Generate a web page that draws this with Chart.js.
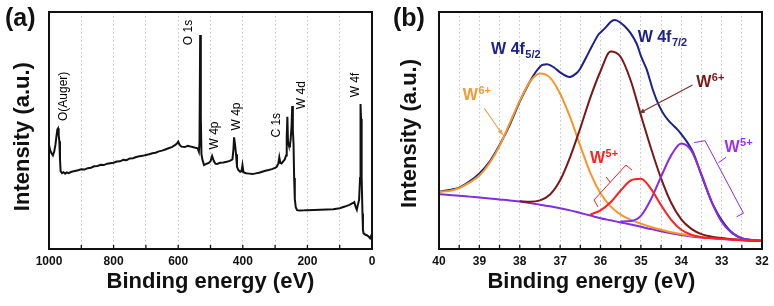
<!DOCTYPE html>
<html>
<head>
<meta charset="utf-8">
<script src="https://cdn.jsdelivr.net/npm/chart.js@4.4.1/dist/chart.umd.min.js"></script>
<style>
  body { margin: 0; background: #fff; }
  #wrap { position: relative; width: 774px; height: 306px; }
  .panel { position: absolute; top: 0; width: 387px; height: 306px; }
</style>
</head>
<body>
<div id="wrap">
  <div class="panel" style="left:0"><canvas id="surveyChart" width="387" height="306"></canvas></div>
  <div class="panel" style="left:387px"><canvas id="w4fChart" width="387" height="306"></canvas></div>
</div>
<script>
// (a) survey spectrum, binding energy (eV) vs intensity (arb.)
let surveyEnergy = [1000, 996, 992, 988, 984, 980, 977, 974, 972, 970, 968, 966, 964, 960, 955, 950, 945, 940,
  930, 920, 910, 900, 890, 880, 870, 860, 850, 840, 830, 820, 810, 800, 790, 780, 770, 760, 750, 740, 730,
  720, 710, 700, 690, 680, 670, 660, 650, 640, 630, 620, 610, 604, 600, 596, 590, 580, 570, 560, 550, 540,
  536, 534, 532, 530, 528, 525, 520, 512, 505, 500, 495, 490, 485, 480, 470, 460, 450, 440, 432, 429, 427,
  424, 421, 418, 414, 408, 404, 401, 398, 390, 380, 370, 360, 350, 340, 330, 320, 310, 300, 295, 290, 287,
  284, 280, 275, 270, 266, 264, 262, 260, 258, 256, 254, 252, 249, 247, 245, 243, 241, 239, 236, 232, 225,
  210, 200, 180, 160, 140, 120, 100, 84, 70, 60, 55, 50, 47, 44, 40, 37, 35.5, 34, 33, 31, 29.5, 28, 26,
  20, 15, 10, 6, 3, 0];
let surveyCounts = [43.9, 41.5, 40.4, 39.5, 41.0, 44.0, 47.5, 50.5, 50.9, 48.0, 45.5, 38.0, 32.8, 32.0, 32.4, 31.8, 32.3, 32.0,
  32.6, 32.9, 33.2, 33.6, 33.5, 34.1, 34.3, 34.9, 35.0, 35.5, 35.4, 36.0, 36.2, 36.4, 36.9, 37.0, 37.6, 37.5, 38.2, 38.3, 38.8,
  39.1, 39.3, 39.7, 40.0, 40.4, 40.6, 41.2, 41.5, 42.0, 42.5, 43.0, 43.8, 44.5, 45.3, 44.0, 43.2, 43.0, 43.5, 43.2, 42.8, 42.5,
  41.0, 45.0, 90.3, 55.8, 40.0, 37.6, 35.4, 36.0, 36.3, 37.0, 39.2, 37.2, 36.0, 35.9, 36.4, 36.5, 36.8, 37.2, 37.8, 42.0, 47.1,
  44.0, 40.0, 34.7, 33.4, 32.6, 32.8, 35.4, 32.4, 32.0, 31.8, 31.6, 31.9, 32.2, 32.6, 33.0, 33.3, 33.7, 34.2, 34.7, 36.0, 38.7,
  36.4, 36.1, 37.0, 37.8, 39.5, 47.0, 55.8, 45.0, 44.0, 43.2, 44.0, 46.0, 52.0, 60.3, 50.0, 44.6, 30.0, 21.0, 17.6, 16.4, 16.2,
  16.3, 16.4, 16.5, 16.6, 16.7, 16.8, 17.2, 17.9, 18.6, 19.3, 19.8, 17.5, 16.5, 18.5, 20.7, 30.0, 61.2, 55.0, 48.8, 30.0, 15.0, 8.0, 6.6,
  6.0, 5.7, 5.2, 4.5, 5.5, 5.0];
let surveyPeakNames = ['O(Auger)', 'O 1s', 'W 4p', 'W 4p', 'C 1s', 'W 4d', 'W 4f'];
let surveyPeakEnergy = [956, 567, 486, 419, 295, 217, 50];
let surveyPeakLevel = [54, 86, 42, 50, 47, 59, 64];

// (b) W 4f region and its fitted components
let w4fEnergy = [40, 39.75, 39.5, 39.25, 39, 38.75, 38.5, 38.25, 38, 37.75, 37.5, 37.25, 37, 36.75, 36.5, 36.25,
  36, 35.75, 35.5, 35.25, 35, 34.75, 34.5, 34.25, 34, 33.75, 33.5, 33.25, 33, 32.75, 32.5, 32.25, 32];
let measuredEnergy = [40, 39.75, 39.5, 39.25, 39, 38.75, 38.5, 38.25, 38, 37.75, 37.6, 37.45, 37.3, 37.15, 37, 36.85,
  36.75, 36.6, 36.5, 36.35, 36.2, 36.05, 35.9, 35.75, 35.65, 35.55, 35.4, 35.25, 35.1, 35, 34.85, 34.7, 34.55, 34.4,
  34.25, 34.1, 34, 33.85, 33.7, 33.55, 33.4, 33.25, 33.1, 33, 32.85, 32.7, 32.5, 32.25, 32];
let measuredCounts = [24.2, 24.9, 25.9, 28.4, 31.9, 36.8, 43.9, 52.3, 62.2, 70.6, 74.8, 77.6, 77.9, 76.6, 74.5, 73.0,
  72.6, 74.1, 76.2, 81.0, 86.0, 90.5, 93.0, 95.8, 96.6, 96.0, 94.0, 91.0, 86.5, 81.5, 75.5, 67.0, 60.5, 56.0,
  53.0, 50.5, 48.5, 45.0, 40.5, 33.5, 26.5, 20.0, 15.0, 12.2, 8.8, 6.4, 4.5, 3.8, 3.4];
let background = [23.1, 22.8, 22.5, 22.1, 21.7, 21.3, 20.9, 20.5, 20.0, 19.4, 18.7, 18.0, 17.2, 16.3, 15.2, 14.1,
  13.0, 12.1, 11.2, 10.3, 9.4, 8.4, 7.5, 6.6, 5.9, 5.3, 4.8, 4.5, 4.2, 3.9, 3.7, 3.5, 3.4];
let w6Fit375 = [24.2, 24.5, 25.7, 28.0, 31.0, 36.2, 43.5, 53.0, 62.5, 70.5, 74.0, 72.3, 65.5, 55.5, 43.5, 32.0,
  23.5, 18.0, 14.5, 12.3, 10.7, 9.3, 8.1, 7.1, 6.3, 5.6, 5.1, 4.7, 4.4, 4.1, 3.8, 3.6, 3.5];
let w6Fit357 = [null, null, null, null, null, null, null, null, 20.2, 19.9, 20.5, 23.0, 29.0, 38.9, 51.0, 64.0,
  75.0, 83.3, 81.0, 71.0, 56.5, 42.5, 29.8, 19.5, 12.5, 8.5, 6.3, 5.2, 4.6, 4.1, 3.8, 3.6, 3.5];
let w5Fit350 = [null, null, null, null, null, null, null, null, null, null, null, null, null, null, null, 14.6,
  16.3, 19.7, 24.7, 28.9, 29.6, 25.4, 18.5, 12.3, 8.1, 6.0, 5.0, 4.6, 4.3, 4.0, 3.8, 3.6, 3.5];
let w5Fit340 = [null, null, null, null, null, null, null, null, null, null, null, null, null, null, null, null,
  null, null, 11.6, 11.8, 14.0, 21.0, 30.5, 39.5, 44.5, 41.5, 31.5, 20.0, 11.5, 6.8, 4.6, 3.8, 3.5];

const FONT = '"Liberation Sans", Arial, sans-serif';
const NAVY = '#1c2286', ORANGE = '#f5962a', BROWN = '#7a1818', RED = '#ff2020', VIOLET = '#8a2be2';
Chart.defaults.font.family = FONT;

function pts(xs, ys) {
  return xs.map((x, i) => ({ x: x, y: ys[i] }));
}

// box round the plot, inward ticks and the panel letter
const framePlugin = {
  id: 'frame',
  afterDraw(chart, args, opts) {
    const ctx = chart.ctx, a = chart.chartArea, x = chart.scales.x;
    ctx.save();
    ctx.strokeStyle = '#111';
    ctx.lineWidth = 1.3;
    ctx.beginPath();
    x.ticks.forEach(t => {
      const p = x.getPixelForValue(t.value);
      ctx.moveTo(p, a.bottom);
      ctx.lineTo(p, a.bottom - 4);
    });
    ctx.stroke();
    ctx.lineWidth = 2;
    ctx.strokeRect(a.left, a.top, a.width, a.height);
    ctx.fillStyle = '#111';
    ctx.font = 'bold 25px ' + FONT;
    ctx.fillText(opts.letter, opts.letterX, 26);
    ctx.restore();
  }
};

const surveyLabels = {
  id: 'surveyLabels',
  afterDatasetsDraw(chart) {
    const ctx = chart.ctx, x = chart.scales.x, y = chart.scales.y;
    ctx.save();
    ctx.font = '12px ' + FONT;
    ctx.fillStyle = '#000';
    ctx.textAlign = 'left';
    ctx.textBaseline = 'middle';
    surveyPeakNames.forEach((name, i) => {
      ctx.save();
      ctx.translate(x.getPixelForValue(surveyPeakEnergy[i]), y.getPixelForValue(surveyPeakLevel[i]));
      ctx.rotate(-Math.PI / 2);
      ctx.fillText(name, 0, 0);
      ctx.restore();
    });
    ctx.restore();
  }
};

function drawLabel(ctx, main, small, x, y, color, shift) {
  ctx.fillStyle = color;
  ctx.font = 'bold 16px ' + FONT;
  ctx.fillText(main, x, y);
  const w = ctx.measureText(main).width;
  ctx.font = 'bold 11px ' + FONT;
  ctx.fillText(small, x + w + 0.5, y + shift);
}

function drawArrow(ctx, x1, y1, x2, y2, color) {
  const ang = Math.atan2(y2 - y1, x2 - x1);
  ctx.strokeStyle = color;
  ctx.fillStyle = color;
  ctx.lineWidth = 1.2;
  ctx.beginPath();
  ctx.moveTo(x1, y1);
  ctx.lineTo(x2, y2);
  ctx.stroke();
  ctx.beginPath();
  ctx.moveTo(x2, y2);
  ctx.lineTo(x2 - 6 * Math.cos(ang - 0.4), y2 - 6 * Math.sin(ang - 0.4));
  ctx.lineTo(x2 - 6 * Math.cos(ang + 0.4), y2 - 6 * Math.sin(ang + 0.4));
  ctx.closePath();
  ctx.fill();
}

function drawPath(ctx, list, color) {
  ctx.strokeStyle = color;
  ctx.lineWidth = 1;
  ctx.beginPath();
  list.forEach((p, i) => i ? ctx.lineTo(p[0], p[1]) : ctx.moveTo(p[0], p[1]));
  ctx.stroke();
}

const fitNotes = {
  id: 'fitNotes',
  afterDatasetsDraw(chart) {
    const ctx = chart.ctx, x = chart.scales.x, y = chart.scales.y;
    const P = (e, v) => [x.getPixelForValue(e), y.getPixelForValue(v)];
    ctx.save();
    ctx.textBaseline = 'alphabetic';
    let p = P(38.71, 82.2); drawLabel(ctx, 'W 4f', '5/2', p[0], p[1], NAVY, 4);
    p = P(35.08, 87.2); drawLabel(ctx, 'W 4f', '7/2', p[0], p[1], NAVY, 4);
    p = P(39.41, 62.9); drawLabel(ctx, 'W', '6+', p[0], p[1], '#f39a33', -6);
    p = P(33.63, 68.5); drawLabel(ctx, 'W', '6+', p[0], p[1], BROWN, -6);
    p = P(36.26, 36.2); drawLabel(ctx, 'W', '5+', p[0], p[1], RED, -6);
    p = P(32.93, 41.1); drawLabel(ctx, 'W', '5+', p[0], p[1], '#9933ee', -6);

    let a = P(38.88, 59.4), b = P(38.42, 48.1);
    drawArrow(ctx, a[0], a[1], b[0], b[1], '#f0a050');
    a = P(33.72, 69.2); b = P(35.04, 57.3);
    drawArrow(ctx, a[0], a[1], b[0], b[1], '#7a3030');

    // brackets
    drawPath(ctx, [P(36.06, 17.7), P(36.16, 20.7), P(35.37, 35.4), P(35.22, 33.3)], RED);
    drawPath(ctx, [P(35.76, 28.1), P(35.86, 30.4)], RED);
    drawPath(ctx, [P(33.68, 44.9), P(33.41, 45.7), P(32.46, 15.1), P(32.63, 13.6)], VIOLET);
    drawPath(ctx, [P(33.08, 36.4), P(32.89, 38.7)], VIOLET);
    ctx.restore();
  }
};

function axisOptions(min, max, step, every, plotLeft, plotRight, xTitle, yTitle) {
  return {
    responsive: false,
    animation: false,
    devicePixelRatio: 1,
    events: [],
    layout: { padding: { top: 12, right: plotRight, left: 0, bottom: 0 } },
    plugins: { legend: { display: false }, tooltip: { enabled: false } },
    scales: {
      x: {
        type: 'linear', min: min, max: max, reverse: true,
        ticks: {
          stepSize: step, autoSkip: false, maxRotation: 0, padding: 5, color: '#111',
          font: { size: 12, weight: 'bold' },
          callback: v => (Math.abs(v / every - Math.round(v / every)) < 1e-6 ? v : '')
        },
        grid: { color: '#c4c4c4', lineWidth: 1, drawTicks: false },
        border: { display: false, dash: [1.5, 2.5] },
        title: { display: true, text: xTitle, color: '#111', font: { size: 22, weight: 'bold' }, padding: { top: 0, bottom: 11 } },
        afterFit(s) { s.height = 57; }
      },
      y: {
        min: 0, max: 100,
        ticks: { display: false },
        grid: { display: false },
        border: { display: false },
        title: { display: true, text: yTitle, color: '#111', font: { size: 22, weight: 'bold' }, padding: { top: 10, bottom: 0 } },
        afterFit(s) { s.width = plotLeft; }
      }
    }
  };
}

const lineStyle = { pointRadius: 0, fill: false, borderWidth: 2, spanGaps: false };

const surveyOptions = axisOptions(0, 1000, 100, 200, 49, 15, 'Binding energy (eV)', 'Intensity (a.u.)  ');
surveyOptions.plugins.frame = { letter: '(a)', letterX: 5 };
new Chart(document.getElementById('surveyChart'), {
  type: 'line',
  data: {
    datasets: [Object.assign({ label: 'Survey', data: pts(surveyEnergy, surveyCounts), borderColor: '#111',
      tension: 0 }, lineStyle)]
  },
  options: surveyOptions,
  plugins: [surveyLabels, framePlugin]
});

const w4fOptions = axisOptions(32, 40, 0.5, 1, 52, 12, 'Binding energy (eV)   ', 'Intensity (a.u.) ');
w4fOptions.plugins.frame = { letter: '(b)', letterX: 6 };
const fitLine = Object.assign({ cubicInterpolationMode: 'monotone' }, lineStyle);
new Chart(document.getElementById('w4fChart'), {
  type: 'line',
  data: {
    datasets: [
      Object.assign({ label: 'W5+ 35.0', data: pts(w4fEnergy, w5Fit350), borderColor: RED }, fitLine),
      Object.assign({ label: 'W5+ 34.0', data: pts(w4fEnergy, w5Fit340), borderColor: VIOLET }, fitLine),
      Object.assign({ label: 'W6+ 35.7', data: pts(w4fEnergy, w6Fit357), borderColor: BROWN }, fitLine),
      Object.assign({ label: 'W6+ 37.5', data: pts(w4fEnergy, w6Fit375), borderColor: ORANGE }, fitLine),
      Object.assign({ label: 'Background', data: pts(w4fEnergy, background), borderColor: '#7f2fdc' }, fitLine),
      Object.assign({ label: 'Measured', data: pts(measuredEnergy, measuredCounts), borderColor: NAVY,
        tension: 0.2 }, lineStyle, { borderWidth: 2 })
    ]
  },
  options: w4fOptions,
  plugins: [fitNotes, framePlugin]
});
</script>
</body>
</html>
